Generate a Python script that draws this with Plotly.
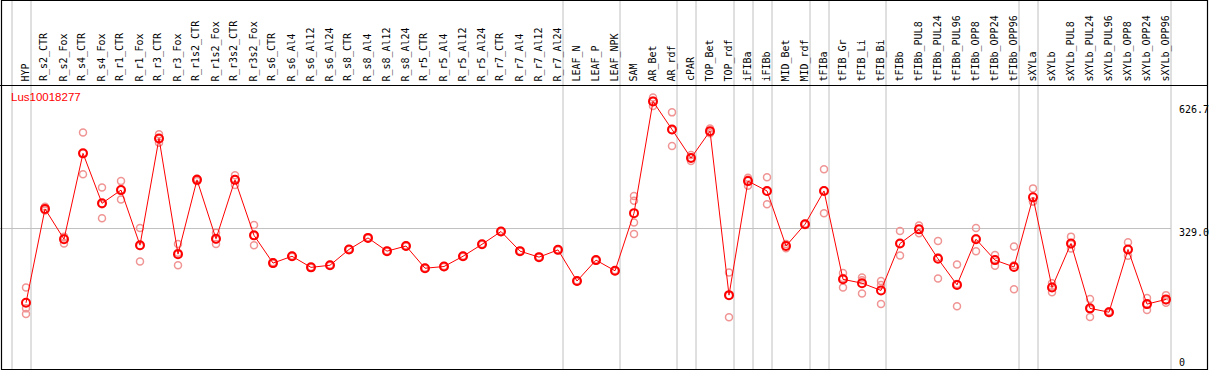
import plotly.graph_objects as go

title = "Lus10018277"

categories = [
    "HYP", "R_s2_CTR", "R_s2_Fox", "R_s4_CTR", "R_s4_Fox", "R_r1_CTR", "R_r1_Fox",
    "R_r3_CTR", "R_r3_Fox", "R_r1s2_CTR", "R_r1s2_Fox", "R_r3s2_CTR", "R_r3s2_Fox",
    "R_s6_CTR", "R_s6_Al4", "R_s6_Al12", "R_s6_Al24", "R_s8_CTR", "R_s8_Al4",
    "R_s8_Al12", "R_s8_Al24", "R_r5_CTR", "R_r5_Al4", "R_r5_Al12", "R_r5_Al24",
    "R_r7_CTR", "R_r7_Al4", "R_r7_Al12", "R_r7_Al24", "LEAF_N", "LEAF_P", "LEAF_NPK",
    "SAM", "AR_Bet", "AR_rdf", "cPAR", "TOP_Bet", "TOP_rdf", "iFIBa", "iFIBb",
    "MID_Bet", "MID_rdf", "tFIBa", "tFIB_Gr", "tFIB_Li", "tFIB_Bi", "tFIBb",
    "tFIBb_PUL8", "tFIBb_PUL24", "tFIBb_PUL96", "tFIBb_OPP8", "tFIBb_OPP24",
    "tFIBb_OPP96", "sXYLa", "sXYLb", "sXYLb_PUL8", "sXYLb_PUL24", "sXYLb_PUL96",
    "sXYLb_OPP8", "sXYLb_OPP24", "sXYLb_OPP96",
]

means = [
    155, 375, 304, 505, 388, 419, 290, 540, 269, 443, 305, 443, 313,
    248, 264, 238, 243, 280, 307, 276, 288, 236, 240, 264, 292,
    322, 276, 262, 279, 206, 255, 230,
    365, 626.7, 561, 494, 557, 173, 440, 417, 288, 339, 417,
    210, 201, 184, 294, 327, 258, 197, 304, 255, 239,
    402, 191, 294, 142, 133, 280, 152, 163,
]

replicates = [
    [191, 142, 129], [380, 371, 374], [310, 294, 308], [554, 456, 505],
    [425, 353, 386], [440, 397, 420], [330, 252, 288], [550, 530, 540],
    [293, 243, 272], [446, 440, 443], [319, 293, 303], [454, 431, 444],
    [337, 290, 312], [250, 247, 247], [265, 263, 264], [239, 237, 238],
    [244, 242, 243], [281, 279, 280], [308, 306, 307], [277, 275, 276],
    [289, 287, 288], [237, 235, 236], [241, 239, 240], [265, 263, 264],
    [293, 291, 292], [323, 321, 322], [277, 275, 276], [263, 261, 262],
    [280, 278, 279], [207, 205, 206], [256, 254, 255], [231, 229, 230],
    [405, 394, 343, 316], [636, 616, 628], [601, 522, 560], [487, 494, 501],
    [563, 557, 552], [226, 121, 172], [448, 429, 444], [449, 386, 416],
    [293, 283, 288], [340, 338, 339], [468, 365, 418], [225, 191, 213],
    [214, 177, 208], [206, 152, 197], [323, 266, 294], [336, 318, 328],
    [300, 212, 262], [245, 147, 199], [330, 276, 306], [267, 242, 256],
    [287, 187, 243], [423, 392, 392], [201, 180, 193], [310, 282, 292],
    [164, 122, 140], [135, 131, 133], [297, 265, 280], [166, 138, 151],
    [173, 155, 161],
]

# index of last category in each group (-1 = left edge)
group_ends = [-1, 0, 28, 31, 34, 35, 37, 38, 39, 41, 42, 45, 52, 53, 60]

ref_value = 329.0
max_label = "626.7"
ref_label = "329.0"
zero_label = "0"

W, H = 1209, 370
x_idx = list(range(len(categories)))

rx, ry = [], []
for i, reps in enumerate(replicates):
    for v in reps:
        rx.append(i)
        ry.append(v)

fig = go.Figure()
fig.add_trace(go.Scatter(
    x=rx, y=ry, mode="markers",
    marker=dict(symbol="circle-open", size=7, color="#f09494", line=dict(width=1.5)),
    hoverinfo="skip", showlegend=False,
))
fig.add_trace(go.Scatter(
    x=x_idx, y=means, mode="lines+markers",
    line=dict(color="#ff0000", width=1),
    marker=dict(symbol="circle-open", size=8, color="#ff0000", line=dict(width=2)),
    showlegend=False,
))

def px(xp):
    return xp / W

def py(yp):
    return 1 - yp / H

mono = "DejaVu Sans Mono"
shapes = []
for g in group_ends:
    shapes.append(dict(type="line", xref="x", yref="paper", x0=g + 5 / 19, x1=g + 5 / 19,
                       y0=py(369), y1=1, line=dict(color="#c0c0c0", width=1), layer="below"))
shapes.append(dict(type="line", xref="x", yref="y", x0=-2, x1=group_ends[-1] + 5 / 19,
                   y0=ref_value, y1=ref_value, line=dict(color="#c0c0c0", width=1), layer="below"))
shapes.append(dict(type="line", xref="paper", yref="paper", x0=0, x1=px(1208), y0=py(85.5), y1=py(85.5),
                   line=dict(color="black", width=1.2)))
shapes.append(dict(type="rect", xref="paper", yref="paper", x0=px(1.5), x1=px(1207.5), y0=py(369.5), y1=py(0.5),
                   line=dict(color="black", width=1.2)))

annotations = []
for i, c in enumerate(categories):
    annotations.append(dict(x=i - 0.05, xref="x", y=py(83.5), yref="paper", text=c, textangle=-90,
                            showarrow=False, xanchor="center", yanchor="bottom",
                            font=dict(family=mono, size=10, color="black")))
annotations.append(dict(x=px(9), xref="paper", y=py(97), yref="paper", text=title, showarrow=False,
                        xanchor="left", yanchor="middle",
                        font=dict(family="Liberation Sans", size=11.5, color="#ff0000")))
for lab, yp in [(max_label, 109), (ref_label, 232), (zero_label, 362)]:
    annotations.append(dict(x=px(1177), xref="paper", y=py(yp), yref="paper", text=lab, showarrow=False,
                            xanchor="left", yanchor="middle",
                            font=dict(family=mono, size=10, color="black")))

fig.update_layout(
    width=W, height=H, margin=dict(l=0, r=0, t=0, b=0, pad=0),
    paper_bgcolor="white", plot_bgcolor="white",
    xaxis=dict(range=[-26 / 19, (W - 26) / 19], visible=False, fixedrange=True),
    yaxis=dict(range=[-1 / 0.427, 369 / 0.427], visible=False, fixedrange=True),
    shapes=shapes, annotations=annotations,
)

fig.write_html("out.html", config={"displayModeBar": False},
               post_script="document.body.style.margin='0';document.body.style.overflow='hidden';")
